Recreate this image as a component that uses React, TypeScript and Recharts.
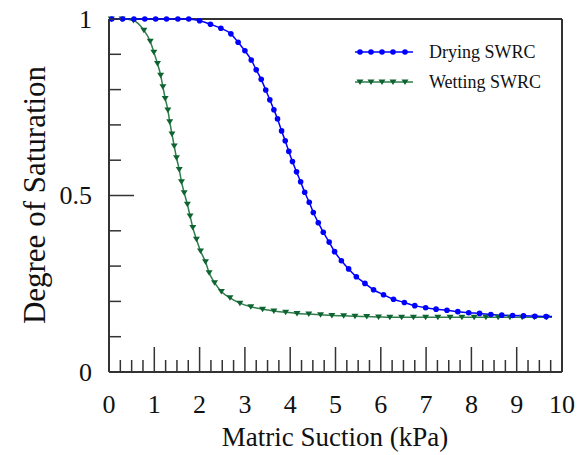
import React from "react";
import {
  LineChart,
  Line,
  XAxis,
  YAxis,
  ReferenceLine,
  Customized,
} from "recharts";

// Drying SWRC marker positions (last point = end of line, no marker)
const dryingSuction = [
  0.06, 0.3, 0.55, 0.79, 1.03, 1.27, 1.52, 1.76, 2.0, 2.24, 2.47, 2.69, 2.85,
  3.0, 3.14, 3.25, 3.36, 3.46, 3.55, 3.64, 3.72, 3.81, 3.89, 3.97, 4.05, 4.14,
  4.23, 4.32, 4.42, 4.51, 4.62, 4.73, 4.86, 4.98, 5.13, 5.29, 5.46, 5.65, 5.84,
  6.06, 6.28, 6.52, 6.75, 6.99, 7.22, 7.46, 7.7, 7.94, 8.18, 8.43, 8.67, 8.91,
  9.15, 9.4, 9.65, 9.78,
];
const dryingSaturation = [
  1, 1, 1, 1, 1, 1, 1, 1, 0.995, 0.985, 0.974, 0.958, 0.934, 0.91, 0.884,
  0.856, 0.829, 0.799, 0.771, 0.743, 0.717, 0.683, 0.655, 0.625, 0.596, 0.567,
  0.539, 0.509, 0.481, 0.452, 0.423, 0.396, 0.368, 0.341, 0.315, 0.292, 0.27,
  0.251, 0.233, 0.219, 0.206, 0.197, 0.188, 0.182, 0.178, 0.175, 0.171, 0.168,
  0.166, 0.163, 0.161, 0.16, 0.159, 0.158, 0.157, 0.157,
];

// Wetting SWRC marker positions
const wettingSuction = [
  0.05, 0.29, 0.54, 0.77, 0.91, 0.99, 1.07, 1.14, 1.19, 1.24, 1.3, 1.34, 1.39,
  1.44, 1.49, 1.55, 1.6, 1.66, 1.73, 1.79, 1.85, 1.93, 2.02, 2.13, 2.21, 2.33,
  2.48, 2.67, 2.89, 3.13, 3.39, 3.64, 3.9, 4.15, 4.41, 4.67, 4.92, 5.18, 5.43,
  5.69, 5.95, 6.2, 6.46, 6.72, 6.99, 7.26, 7.53, 7.79, 8.06, 8.32, 8.59, 8.85,
  9.12, 9.39, 9.66, 9.78,
];
const wettingSaturation = [
  1, 1, 0.996, 0.968, 0.937, 0.906, 0.874, 0.841, 0.808, 0.775, 0.742, 0.709,
  0.674, 0.64, 0.607, 0.574, 0.539, 0.508, 0.475, 0.442, 0.409, 0.376, 0.343,
  0.312, 0.281, 0.253, 0.228, 0.21, 0.195, 0.185, 0.178, 0.173, 0.169, 0.166,
  0.164, 0.162, 0.16, 0.159, 0.158, 0.157, 0.156, 0.155, 0.155, 0.155, 0.155,
  0.155, 0.155, 0.155, 0.155, 0.155, 0.155, 0.155, 0.155, 0.155, 0.155, 0.155,
];

const xMajorTicks = [0, 1, 2, 3, 4, 5, 6, 7, 8, 9, 10];
const xMinorTicks = xMajorTicks.flatMap((v) =>
  v < 10 ? [v, v + 0.25, v + 0.5, v + 0.75] : [v]
);
const yTicks = [0, 0.1, 0.2, 0.3, 0.4, 0.5, 0.6, 0.7, 0.8, 0.9, 1];
const yLabels = [0, 0.5, 1];

const drying = dryingSuction.map((x, i) => ({ x, y: dryingSaturation[i] }));
const wetting = wettingSuction.map((x, i) => ({ x, y: wettingSaturation[i] }));

const FONT = "'Liberation Serif', 'Times New Roman', serif";
const AXIS = "#333";
const BLUE = "#0000ff";
const GREEN_LINE = "#2f7d4c";
const GREEN_MARK = "#0e6430";

const textStyle = (size: number) => ({ fontFamily: FONT, fontSize: size, fill: "#111" });

function triangle(cx: number, cy: number) {
  return `M${cx - 3.5},${cy - 2.5} L${cx + 3.5},${cy - 2.5} L${cx},${cy + 3} Z`;
}

function XTick(props: any) {
  const { x, y, payload } = props;
  const v = payload.value;
  const major = Number.isInteger(v);
  return (
    <g>
      <line x1={x} x2={x} y1={y} y2={y - (major ? 25 : 12)} stroke={AXIS} strokeWidth={1.5} />
      {major && (
        <text x={x} y={y + 41} textAnchor="middle" style={textStyle(26)}>
          {v}
        </text>
      )}
    </g>
  );
}

function YTick(props: any) {
  const { x, y, payload } = props;
  const v = payload.value;
  const major = Math.abs(v - 0.5) < 1e-6;
  const labeled = yLabels.some((l) => Math.abs(l - v) < 1e-6);
  return (
    <g>
      <line x1={x} x2={x + (major ? 25 : 12)} y1={y} y2={y} stroke={AXIS} strokeWidth={1.5} />
      {labeled && (
        <text x={x - 17} y={y} textAnchor="end" dominantBaseline="central" style={textStyle(26)}>
          {v}
        </text>
      )}
    </g>
  );
}

function Overlay() {
  const dots = [360, 371, 382, 393, 405];
  return (
    <g>
      <text x={335} y={446} textAnchor="middle" style={textStyle(27)}>
        Matric Suction (kPa)
      </text>
      <text x={45} y={195} transform="rotate(-90 45 195)" textAnchor="middle" style={textStyle(31)}>
        Degree of Saturation
      </text>
      {/* legend */}
      <line x1={355} x2={413} y1={52} y2={52} stroke={BLUE} strokeWidth={1.5} />
      {dots.map((d) => (
        <circle key={"b" + d} cx={d} cy={52} r={2.8} fill={BLUE} />
      ))}
      <text x={429} y={52} dominantBaseline="central" style={textStyle(18)}>
        Drying SWRC
      </text>
      <line x1={355} x2={413} y1={82} y2={82} stroke={GREEN_LINE} strokeWidth={1.5} />
      {dots.map((d) => (
        <path key={"g" + d} d={triangle(d, 82)} fill={GREEN_MARK} />
      ))}
      <text x={429} y={82} dominantBaseline="central" style={textStyle(18)}>
        Wetting SWRC
      </text>
    </g>
  );
}

export default function App() {
  return (
    <div style={{ position: "absolute", left: 0, top: 0, width: 585, height: 455, background: "#fff" }}>
      <LineChart width={585} height={455} margin={{ top: 19, right: 23, bottom: 0, left: 49 }}>
        <XAxis
          dataKey="x"
          type="number"
          domain={[0, 10]}
          ticks={xMinorTicks}
          interval={0}
          height={83}
          tickSize={0}
          tickMargin={0}
          tickLine={false}
          axisLine={{ stroke: AXIS, strokeWidth: 2 }}
          tick={(p: any) => <XTick {...p} />}
        />
        <YAxis
          dataKey="y"
          type="number"
          domain={[0, 1]}
          ticks={yTicks}
          interval={0}
          width={60}
          tickSize={0}
          tickMargin={0}
          tickLine={false}
          axisLine={{ stroke: AXIS, strokeWidth: 2 }}
          tick={(p: any) => <YTick {...p} />}
        />
        <ReferenceLine y={1} stroke={AXIS} strokeWidth={2} />
        <ReferenceLine x={10} stroke={AXIS} strokeWidth={2} />
        <Line
          data={wetting}
          dataKey="y"
          type="monotone"
          stroke={GREEN_LINE}
          strokeWidth={1.5}
          isAnimationActive={false}
          dot={(p: any) =>
            p.index === wetting.length - 1 ? (
              <g key={"w" + p.index} />
            ) : (
              <path key={"w" + p.index} d={triangle(p.cx, p.cy)} fill={GREEN_MARK} />
            )
          }
          activeDot={false}
        />
        <Line
          data={drying}
          dataKey="y"
          type="monotone"
          stroke={BLUE}
          strokeWidth={1.5}
          isAnimationActive={false}
          dot={(p: any) =>
            p.index === drying.length - 1 ? (
              <g key={"d" + p.index} />
            ) : (
              <circle key={"d" + p.index} cx={p.cx} cy={p.cy} r={2.8} fill={BLUE} />
            )
          }
          activeDot={false}
        />
        <Customized component={Overlay} />
      </LineChart>
    </div>
  );
}
